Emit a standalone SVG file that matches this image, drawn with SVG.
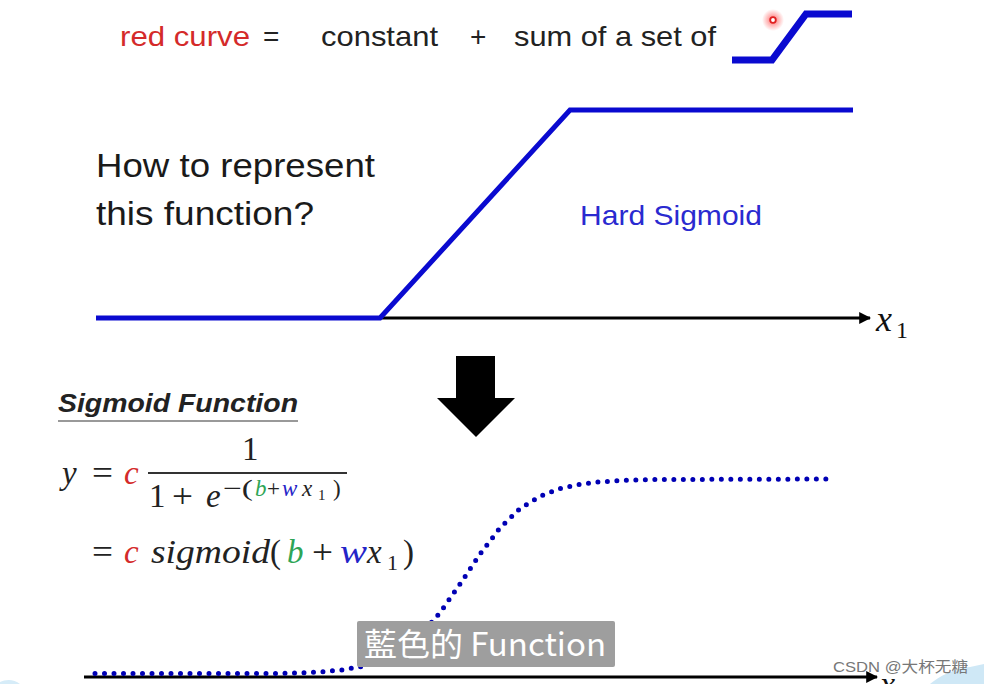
<svg xmlns="http://www.w3.org/2000/svg" width="984" height="684" viewBox="0 0 984 684">
  <style>
    .sans { font-family: "Liberation Sans", "Open Sans", sans-serif; }
    .math { font-family: "Liberation Serif", "DejaVu Serif", serif; font-style: italic; }
    .mathr { font-family: "Liberation Serif", "DejaVu Serif", serif; }
    .blueline { fill: none; stroke: #0a0ad0; stroke-linejoin: miter; }
    .axis { fill: none; stroke: #000; stroke-width: 3; }
    .red { fill: #d42a2a; }
    .green { fill: #2ea556; }
    .blue { fill: #2424c8; }
    .ink { fill: #222; }
  </style>
  <defs>
    <marker id="arr" viewBox="0 0 10 10" refX="9" refY="5" markerWidth="4" markerHeight="4" orient="auto" markerUnits="strokeWidth">
      <path d="M0,0 L10,5 L0,10 z" fill="#000"/>
    </marker>
    <radialGradient id="glow">
      <stop offset="0" stop-color="#ff4040" stop-opacity="0.85"/>
      <stop offset="0.5" stop-color="#ff6060" stop-opacity="0.45"/>
      <stop offset="1" stop-color="#ff6060" stop-opacity="0"/>
    </radialGradient>
  </defs>
  <rect width="984" height="684" fill="#fff"/>

  <!-- top line -->
  <g id="title">
    <text class="sans red" x="120" y="46" font-size="28" textLength="130" lengthAdjust="spacingAndGlyphs">red curve</text>
    <text class="sans ink" x="263" y="46" font-size="28">=</text>
    <text class="sans ink" x="321" y="46" font-size="28" textLength="117" lengthAdjust="spacingAndGlyphs">constant</text>
    <text class="sans ink" x="470" y="46" font-size="28">+</text>
    <text class="sans ink" x="514" y="46" font-size="28" textLength="202" lengthAdjust="spacingAndGlyphs">sum of a set of</text>
  </g>
  <g id="icon">
    <polyline class="blueline" stroke-width="7" points="732,60 772,60 806,14 852,14"/>
    <circle cx="773" cy="20" r="11" fill="url(#glow)"/>
    <circle cx="773" cy="20" r="2.8" fill="#fff" stroke="#e02020" stroke-width="1.8"/>
  </g>

  <!-- hard sigmoid -->
  <g id="question">
    <text class="sans" x="96" y="177" font-size="33" fill="#1a1a1a" textLength="279" lengthAdjust="spacingAndGlyphs">How to represent</text>
    <text class="sans" x="96" y="225" font-size="33" fill="#1a1a1a" textLength="218" lengthAdjust="spacingAndGlyphs">this function?</text>
  </g>
  <g id="connectors">
    <line class="axis" x1="380" y1="318" x2="870" y2="318" marker-end="url(#arr)"/>
    <line class="axis" x1="84" y1="677" x2="877" y2="677" marker-end="url(#arr)"/>
  </g>
  <g id="hard-sigmoid">
    <polyline class="blueline" stroke-width="5" points="96,318 380,318 570,110 853,110"/>
    <text class="sans" x="580" y="225" font-size="28" fill="#2a2ad0" textLength="182" lengthAdjust="spacingAndGlyphs">Hard Sigmoid</text>
  </g>
  <g id="x1-top">
    <text class="math" x="876" y="331" font-size="36" fill="#111">x</text>
    <text class="mathr" x="896" y="338" font-size="24" fill="#111">1</text>
  </g>

  <!-- down arrow -->
  <g id="down-arrow">
    <path d="M456,356 L495,356 L495,398 L515,398 L476,437 L437,398 L456,398 Z" fill="#000"/>
  </g>

  <!-- sigmoid formula -->
  <g id="formula">
    <text x="58" y="412" font-size="26" font-weight="bold" font-style="italic" font-family="'Liberation Sans', 'Open Sans', sans-serif" fill="#222" textLength="240" lengthAdjust="spacingAndGlyphs">Sigmoid Function</text>
    <line x1="58" y1="421" x2="298" y2="421" stroke="#777" stroke-width="1.5"/>
    <text class="math ink" x="62" y="484" font-size="33">y</text>
    <text class="mathr ink" x="92" y="484" font-size="33" textLength="21" lengthAdjust="spacingAndGlyphs">=</text>
    <text class="math red" x="124" y="484" font-size="33">c</text>
    <text class="mathr ink" x="242" y="460" font-size="33">1</text>
    <line x1="148" y1="473" x2="347" y2="473" stroke="#333" stroke-width="2"/>
    <text class="mathr ink" x="149" y="507" font-size="33">1</text>
    <text class="mathr ink" x="172" y="507" font-size="33" textLength="21" lengthAdjust="spacingAndGlyphs">+</text>
    <text class="math ink" x="206" y="507" font-size="33">e</text>
    <text class="mathr ink" x="223" y="496" font-size="23" textLength="30" lengthAdjust="spacingAndGlyphs">−(</text>
    <text class="math green" x="255" y="496" font-size="23">b</text>
    <text class="mathr ink" x="267" y="496" font-size="23">+</text>
    <text class="math blue" x="282" y="496" font-size="23">w</text>
    <text class="math ink" x="302" y="496" font-size="23">x</text>
    <text class="mathr ink" x="318" y="500" font-size="15">1</text>
    <text class="mathr ink" x="333" y="496" font-size="23">)</text>
    <text class="mathr ink" x="92" y="563" font-size="33" textLength="21" lengthAdjust="spacingAndGlyphs">=</text>
    <text class="math red" x="124" y="563" font-size="33">c</text>
    <text class="math ink" x="151" y="563" font-size="33" textLength="119" lengthAdjust="spacingAndGlyphs">sigmoid</text>
    <text class="mathr ink" x="270" y="563" font-size="33">(</text>
    <text class="math green" x="287" y="563" font-size="33">b</text>
    <text class="mathr ink" x="312" y="563" font-size="33" textLength="21" lengthAdjust="spacingAndGlyphs">+</text>
    <text class="math blue" x="340" y="563" font-size="33" textLength="27" lengthAdjust="spacingAndGlyphs">w</text>
    <text class="math ink" x="367" y="563" font-size="33">x</text>
    <text class="mathr ink" x="387" y="570" font-size="22">1</text>
    <text class="mathr ink" x="403" y="563" font-size="33">)</text>
  </g>

  <!-- sigmoid curve -->
  <g id="sigmoid-curve">
    <polyline points="95,673.5 280,673.4 300,672.9 320,671.9 340,670.2 360,666.9 380,661.3 400,651.3 420,635.6 440,612.7 460,584.1 480,554.1 500,527.9 520,508.6 540,496.2 560,488.5 580,484.3 600,481.8 630,480.1 660,479.5 835,479" fill="none" stroke="#0000b4" stroke-width="5" stroke-linecap="round" stroke-linejoin="round" stroke-dasharray="0 9.5"/>
  </g>

  <!-- subtitle -->
  <g id="subtitle">
    <rect x="357" y="621" width="258" height="46" rx="2" fill="#9e9e9e"/>
    <text x="364" y="656" font-size="32" fill="#fff" font-family="'Noto Sans CJK TC', 'Noto Sans CJK SC', sans-serif" textLength="242" lengthAdjust="spacingAndGlyphs">藍色的 Function</text>
  </g>

  <!-- bottom x1 and watermark -->
  <g id="watermark">
    <path d="M930,684 C940,676 955,668 970,667 L984,664 L984,684 Z" fill="#cfe8f6"/>
    <path d="M0,682 C6,679 14,679 20,684 L0,684 Z" fill="#d6ecf8"/>
  </g>
  <g id="x1-bottom">
    <text class="math" x="880" y="695" font-size="34" fill="#111">x</text>
    <text class="mathr" x="898" y="700" font-size="23" fill="#111">1</text>
  </g>
  <g id="watermark-text">
    <text x="833" y="672" font-size="15" fill="#777" font-family="'Liberation Sans', 'Noto Sans CJK SC', sans-serif" textLength="135" lengthAdjust="spacingAndGlyphs">CSDN @大杯无糖</text>
  </g>
</svg>
